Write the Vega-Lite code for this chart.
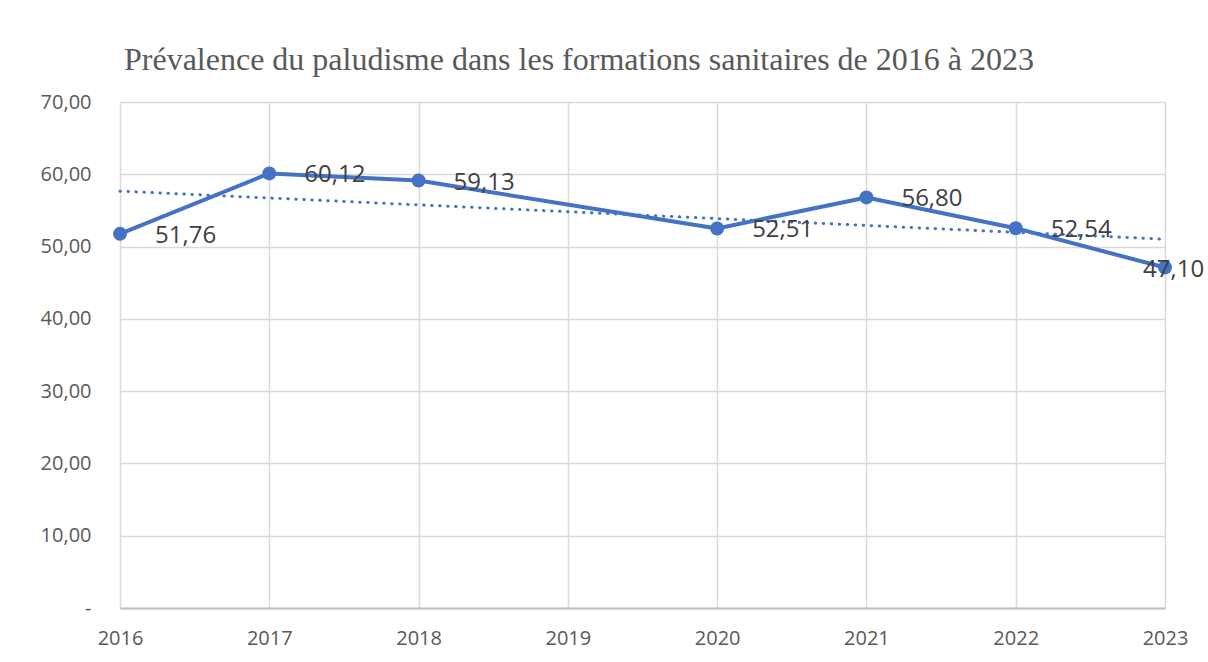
{
  "$schema": "https://vega.github.io/schema/vega-lite/v6.json",
  "width": 1045,
  "height": 506,
  "autosize": {"type": "none"},
  "padding": {"left": 120, "top": 102, "right": 43, "bottom": 54},
  "background": "white",
  "title": {
    "text": "Prévalence du paludisme dans les formations sanitaires de 2016 à 2023",
    "anchor": "start",
    "frame": "group",
    "dx": 4,
    "offset": -10,
    "baseline": "alphabetic",
    "font": "Liberation Serif",
    "fontSize": 32,
    "fontWeight": "normal",
    "color": "#595959"
  },
  "datasets": {
    "series": [
      {"year": 2016, "value": 51.76},
      {"year": 2017, "value": 60.12},
      {"year": 2018, "value": 59.13},
      {"year": 2020, "value": 52.51},
      {"year": 2021, "value": 56.80},
      {"year": 2022, "value": 52.54},
      {"year": 2023, "value": 47.10}
    ],
    "trend": [
      {"year": 2016, "value": 57.67},
      {"year": 2023, "value": 51.02}
    ]
  },
  "config": {
    "locale": {"number": {"decimal": ",", "thousands": " ", "grouping": [3], "currency": ["", " €"]}},
    "view": {"stroke": null},
    "axis": {
      "gridColor": "#d9d9d9",
      "gridWidth": 1.5,
      "labelFont": "Open Sans",
      "labelFontSize": 20,
      "labelColor": "#595959",
      "ticks": false,
      "domain": false,
      "title": null
    }
  },
  "layer": [
    {
      "data": {"name": "trend"},
      "mark": {"type": "line", "color": "#4472C4", "strokeWidth": 3, "strokeDash": [0.5, 7.5], "strokeCap": "round"},
      "encoding": {
        "x": {
          "field": "year", "type": "quantitative",
          "scale": {"domain": [2016, 2023], "nice": false, "zero": false},
          "axis": {"values": [2016, 2017, 2018, 2019, 2020, 2021, 2022, 2023], "format": "d", "labelPadding": 20, "domain": true, "domainColor": "#bfbfbf", "domainWidth": 2, "grid": true, "labelFlush": false}
        },
        "y": {
          "field": "value", "type": "quantitative",
          "scale": {"domain": [0, 70], "nice": false},
          "axis": {"values": [0, 10, 20, 30, 40, 50, 60, 70], "labelPadding": 29, "labelExpr": "datum.value == 0 ? '-' : format(datum.value, '.2f')"}
        }
      }
    },
    {
      "data": {"name": "series"},
      "mark": {"type": "line", "color": "#4472C4", "strokeWidth": 4, "strokeJoin": "round", "strokeCap": "round"},
      "encoding": {
        "x": {"field": "year", "type": "quantitative"},
        "y": {"field": "value", "type": "quantitative"}
      }
    },
    {
      "data": {"name": "series"},
      "mark": {"type": "point", "filled": true, "shape": "circle", "size": 196, "color": "#4472C4", "opacity": 1},
      "encoding": {
        "x": {"field": "year", "type": "quantitative"},
        "y": {"field": "value", "type": "quantitative"}
      }
    },
    {
      "data": {"name": "series"},
      "transform": [{"filter": "datum.year != 2023"}],
      "mark": {"type": "text", "align": "left", "baseline": "middle", "dx": 35, "dy": 2, "font": "Open Sans", "fontSize": 24, "color": "#404040"},
      "encoding": {
        "x": {"field": "year", "type": "quantitative"},
        "y": {"field": "value", "type": "quantitative"},
        "text": {"field": "value", "type": "quantitative", "format": ".2f"}
      }
    },
    {
      "data": {"name": "series"},
      "transform": [{"filter": "datum.year == 2023"}],
      "mark": {"type": "text", "align": "left", "baseline": "middle", "dx": -22, "dy": 2, "font": "Open Sans", "fontSize": 24, "color": "#404040"},
      "encoding": {
        "x": {"field": "year", "type": "quantitative"},
        "y": {"field": "value", "type": "quantitative"},
        "text": {"field": "value", "type": "quantitative", "format": ".2f"}
      }
    }
  ]
}
